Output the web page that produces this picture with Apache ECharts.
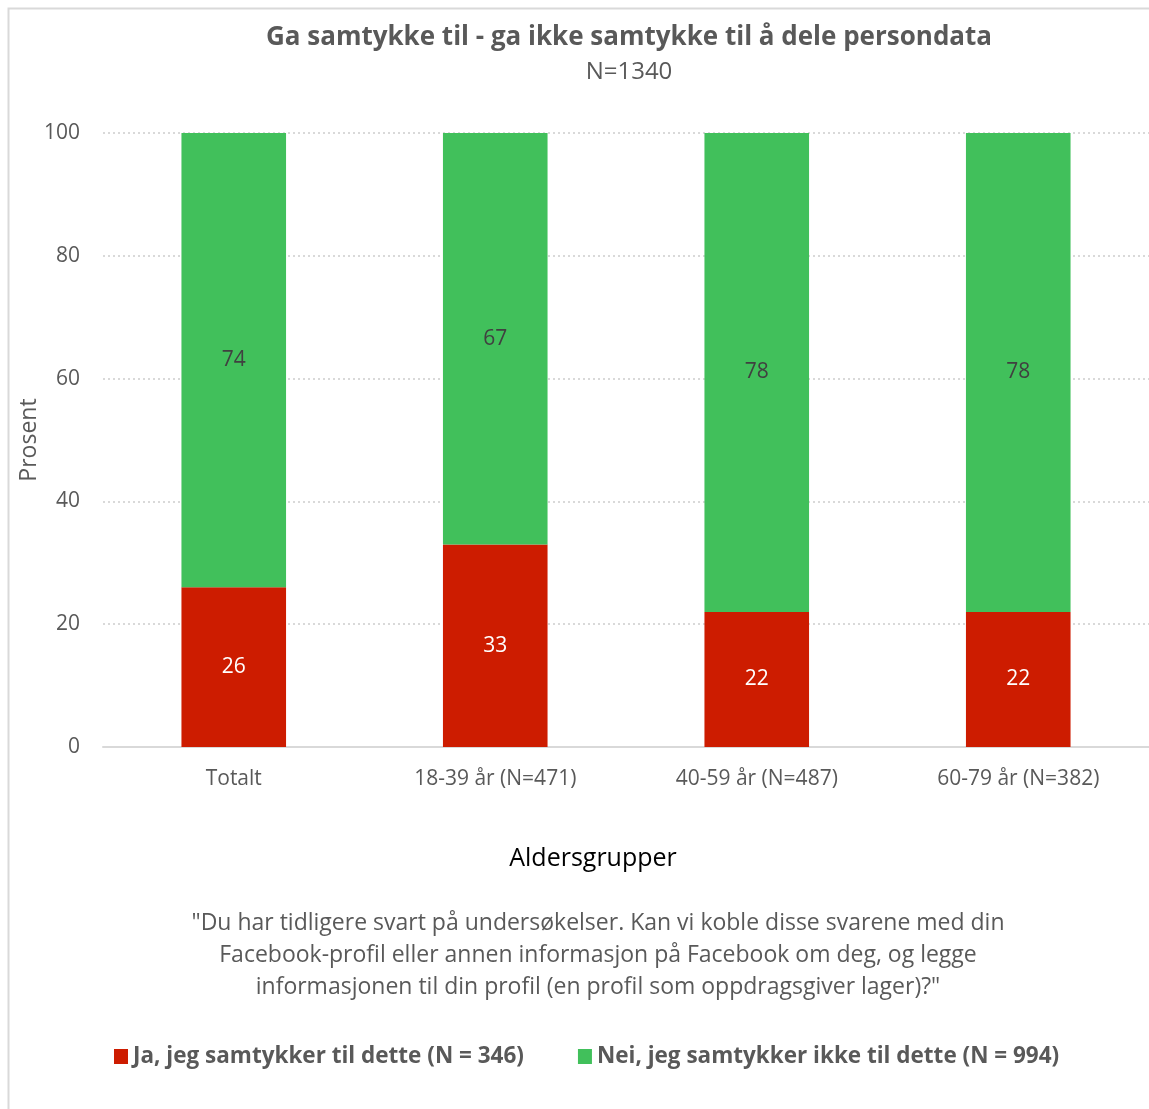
<!DOCTYPE html>
<html lang="no" style="height: 100%">
<head>
  <meta charset="utf-8">
</head>
<body style="height: 100%; margin: 0;">
  <div id="container" style="width: 1149px; height: 1109px;"></div>
  <script type="text/javascript" src="https://cdn.jsdelivr.net/npm/echarts@6/dist/echarts.min.js"></script>
  <script type="text/javascript">
    // data
    var categories = ['Totalt', '18-39 år (N=471)', '40-59 år (N=487)', '60-79 år (N=382)'];
    var jaValues = [26, 33, 22, 22];
    var neiValues = [74, 67, 78, 78];
    var seriesNames = ['Ja, jeg samtykker til dette (N = 346)', 'Nei, jeg samtykker ikke til dette (N = 994)'];
    var yTicks = [0, 20, 40, 60, 80, 100];

    var dom = document.getElementById('container');
    var myChart = echarts.init(dom, null, { renderer: 'canvas' });
    var font = '"Open Sans", "Noto Sans", sans-serif';

    var option = {
      backgroundColor: '#ffffff',
      animation: false,
      title: [
        {
          text: 'Ga samtykke til - ga ikke samtykke til å dele persondata',
          left: 624, top: 20, textAlign: 'center',
          textStyle: { fontFamily: font, fontWeight: 'bold', fontSize: 26, color: '#595959' }
        },
        {
          text: 'N=1340',
          left: 624, top: 55, textAlign: 'center',
          textStyle: { fontFamily: font, fontWeight: 'normal', fontSize: 24, color: '#595959' }
        },
        {
          text: '"Du har tidligere svart på undersøkelser. Kan vi koble disse svarene med din\nFacebook-profil eller annen informasjon på Facebook om deg, og legge\ninformasjonen til din profil (en profil som oppdragsgiver lager)?"',
          left: 593, top: 902, textAlign: 'center',
          textStyle: { fontFamily: font, fontWeight: 'normal', fontSize: 23, lineHeight: 32, color: '#595959', align: 'center' }
        }
      ],
      graphic: [
        {
          type: 'rect', silent: true,
          shape: { x: 8.5, y: 8.5, width: 1160, height: 1120 },
          style: { fill: 'none', stroke: '#d9d9d9', lineWidth: 2 }
        }
      ],
      legend: {
        bottom: 36, left: 109,
        itemWidth: 14, itemHeight: 15, itemGap: 54,
        icon: 'rect',
        textStyle: { fontFamily: font, fontWeight: 'bold', fontSize: 22.5, color: '#595959', padding: [0, 0, 0, 0] },
        data: seriesNames
      },
      grid: { left: 103, right: 0, top: 133, bottom: 362, containLabel: false },
      xAxis: {
        type: 'category',
        data: categories,
        name: 'Aldersgrupper',
        nameLocation: 'middle',
        nameGap: 99,
        nameMoveOverlap: false,
        nameTextStyle: { fontFamily: font, fontSize: 25, color: '#000000', padding: [0, 66, 0, 0] },
        axisLine: { lineStyle: { color: '#d9d9d9', width: 2 } },
        axisTick: { show: false },
        axisLabel: { fontFamily: font, fontSize: 21, color: '#595959', margin: 22 }
      },
      yAxis: {
        type: 'value',
        min: 0, max: 100, interval: 20,
        name: 'Prosent',
        nameLocation: 'middle',
        nameGap: 62,
        nameMoveOverlap: false,
        nameTextStyle: { fontFamily: font, fontSize: 23, color: '#595959' },
        axisLine: { show: false },
        axisTick: { show: false },
        axisLabel: {
          fontFamily: font, fontSize: 21, color: '#595959', margin: 23,
          formatter: function (v) { return yTicks.indexOf(v) >= 0 ? String(v) : ''; }
        },
        splitLine: { lineStyle: { color: '#d9d9d9', type: [2, 3], width: 2 } }
      },
      series: [
        {
          name: seriesNames[0],
          type: 'bar',
          stack: 'total',
          barWidth: '40%',
          data: jaValues,
          itemStyle: { color: '#cd1c00' },
          label: { show: true, position: 'inside', fontFamily: font, fontSize: 21, color: '#ffffff' }
        },
        {
          name: seriesNames[1],
          type: 'bar',
          stack: 'total',
          barWidth: '40%',
          data: neiValues,
          itemStyle: { color: '#41c05b' },
          label: { show: true, position: 'inside', fontFamily: font, fontSize: 21, color: '#404040' }
        }
      ]
    };

    myChart.setOption(option, true);
    window.addEventListener('resize', myChart.resize);
  </script>
</body>
</html>
